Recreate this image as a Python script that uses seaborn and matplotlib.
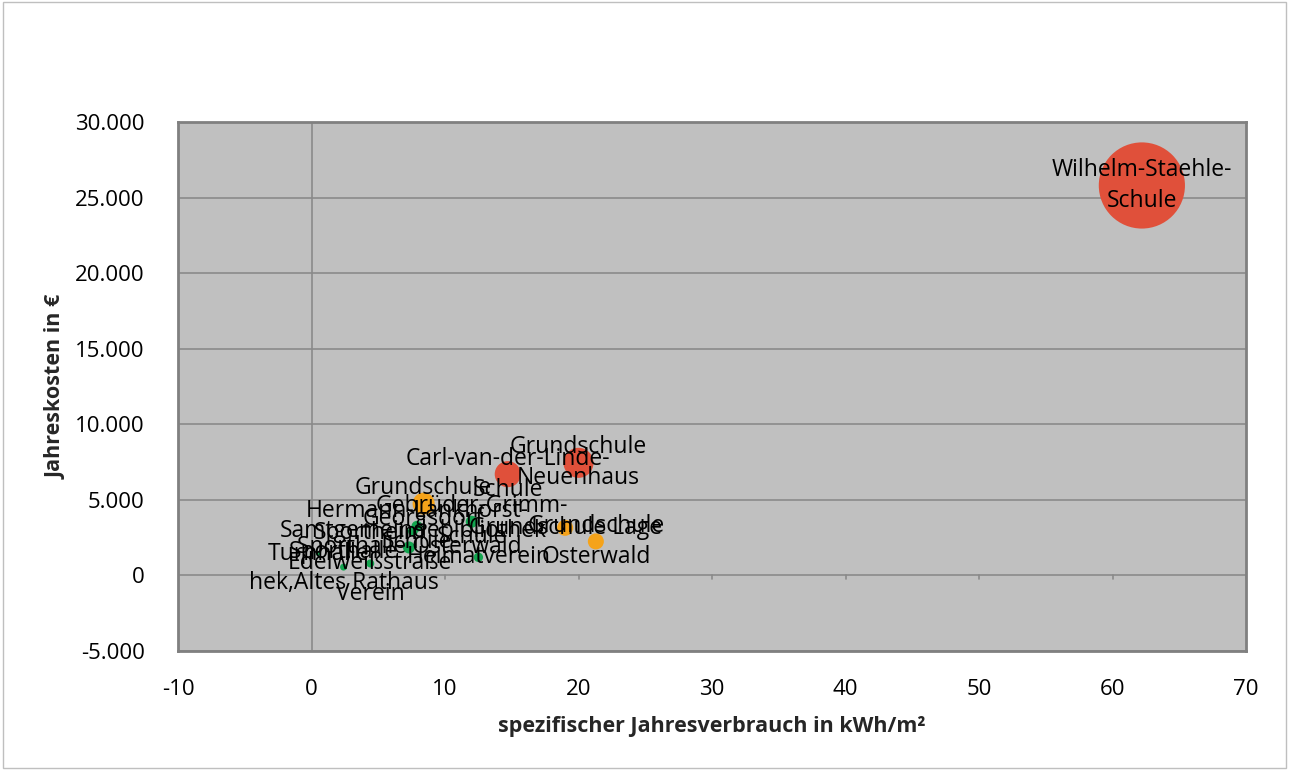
import matplotlib
matplotlib.use("Agg")
import matplotlib.pyplot as plt
import matplotlib.ticker as mticker
import seaborn as sns
import pandas as pd

# --- data ---------------------------------------------------------------
labels = [
    "Wilhelm-Staehle-\nSchule",
    "Grundschule\nNeuenhaus",
    "Carl-van-der-Linde-\nSchule",
    "Grundschule\nGeorgsdorf",
    "Grundschule Lage",
    "Grundschule\nOsterwald",
    "Hermann-Lankhorst-\nSchule",
    "Samtgemeindebibliothek",
    "Gebrüder-Grimm-\nSchule",
    "Sporthalle Osterwald",
    "Heimatverein",
    "Sporthalle\nhek,Altes Rathaus",
    "Sportheim\nEdelweißstraße\nVerein",
    "Turnhalle",
]
verbrauch_spez = [62.2, 20.0, 14.7, 8.4, 19.0, 21.3, 7.9, 7.6, 12.0, 7.3, 12.5, 2.4, 4.4, 0.5]
jahreskosten = [25800, 7450, 6700, 4750, 3150, 2250, 3250, 2950, 3550, 1850, 1200, 550, 790, 1450]
bubble_groesse = [1850, 225, 169, 121, 64, 64, 30, 25, 36, 36, 22, 12, 16, 6]
kategorie = ["hoch", "hoch", "hoch", "mittel", "mittel", "mittel",
             "niedrig", "niedrig", "niedrig", "niedrig", "niedrig", "niedrig", "niedrig", "niedrig"]

df = pd.DataFrame({
    "x": verbrauch_spez, "y": jahreskosten, "s": bubble_groesse,
    "kat": kategorie, "label": labels,
})

palette = {"hoch": "#E0503A", "mittel": "#F5A31A", "niedrig": "#13A54F"}

# --- figure -------------------------------------------------------------
sns.set_theme(style="white")
plt.rcParams["font.family"] = ["Open Sans", "DejaVu Sans"]
plt.rcParams["axes.unicode_minus"] = False

fig = plt.figure(figsize=(12.89, 7.70), dpi=100)
fig.patch.set_facecolor("white")
ax = fig.add_axes([178/1289, 1-651/770, (1246-178)/1289, (651-122)/770])
ax.set_facecolor("#C0C0C0")

ax.set_xlim(-10, 70)
ax.set_ylim(-5000, 30000)
ax.set_yticks(range(-5000, 30001, 5000))
ax.set_xticks(range(-10, 71, 10))
ax.yaxis.set_major_formatter(mticker.FuncFormatter(
    lambda v, p: f"{int(v):,}".replace(",", ".")))

for yv in range(-5000, 30001, 5000):
    ax.axhline(yv, color="#8A8A8A", lw=1.2, zorder=1)
ax.axvline(0, color="#8A8A8A", lw=1.2, zorder=1)

# small tick marks on the x axis crossing at y=0
for xv in range(-10, 71, 10):
    ax.plot([xv, xv], [0, -250], color="#8A8A8A", lw=1.2, zorder=1)

max_s = max(bubble_groesse)
sns.scatterplot(data=df, x="x", y="y", hue="kat", size="s", palette=palette,
                sizes=(0, 3850), size_norm=(0, max_s), legend=False,
                edgecolor="none", alpha=1, ax=ax, zorder=3)

for _, r in df.iterrows():
    ax.text(r["x"], r["y"], r["label"], ha="center", va="center",
            fontsize=16.5, color="black", zorder=4, linespacing=1.38)

for sp in ax.spines.values():
    sp.set_color("#808080")
    sp.set_linewidth(2)

ax.tick_params(axis="both", length=0, labelsize=16, colors="black")
ax.tick_params(axis="y", pad=24)
ax.tick_params(axis="x", pad=20)
ax.set_xlabel("spezifischer Jahresverbrauch in kWh/m²", fontsize=15.5,
              fontweight="bold", labelpad=12)
ax.set_ylabel("Jahreskosten in €", fontsize=15.5, fontweight="bold", labelpad=6)

# outer chart border
fig.add_artist(plt.Rectangle((0.002, 0.002), 0.996, 0.996, transform=fig.transFigure,
                             fill=False, edgecolor="#BFBFBF", lw=1))

fig.savefig("out.png", dpi=100, facecolor="white")
